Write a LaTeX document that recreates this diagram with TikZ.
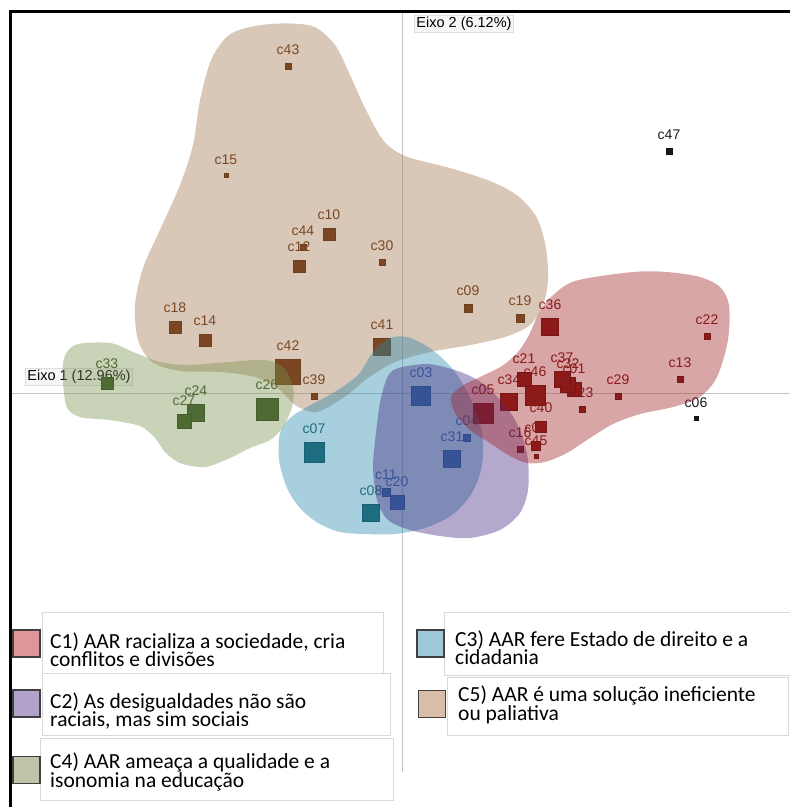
\documentclass[tikz,border=0pt]{standalone}
\usepackage{fontspec}
\setmainfont{Liberation Sans}
\newfontfamily\legfont{Carlito}
\usetikzlibrary{positioning}

\definecolor{cone}{RGB}{125,22,18}
\definecolor{ctwo}{RGB}{55,100,170}
\definecolor{cthree}{RGB}{25,93,103}
\definecolor{cfour}{RGB}{53,82,37}
\definecolor{cfive}{RGB}{97,43,7}
\definecolor{czero}{RGB}{25,25,25}
\definecolor{hone}{RGB}{160,32,37}
\definecolor{htwo}{RGB}{67,37,127}
\definecolor{hthree}{RGB}{37,135,170}
\definecolor{hfour}{RGB}{117,145,75}
\definecolor{hfive}{RGB}{160,115,75}
\definecolor{lone}{RGB}{224,150,152}
\definecolor{ltwo}{RGB}{178,162,202}
\definecolor{lthree}{RGB}{158,200,218}
\definecolor{lfour}{RGB}{190,196,168}
\definecolor{lfive}{RGB}{218,190,170}

\begin{document}
\begin{tikzpicture}[x=1pt,y=-1pt,
  pt/.style={draw=#1!75!black, fill=#1, line width=0.6pt, inner sep=0pt, outer sep=0pt},
  lbl/.style={text=#1, inner sep=0pt, font=\fontsize{14}{16}\selectfont},
  hull/.style={fill=#1, fill opacity=0.4, draw=none},
  axis/.style={draw=gray!45, line width=0.8pt},
  axlbl/.style={fill=gray!7, draw=gray!25, inner xsep=2pt, inner ysep=1.5pt, font=\fontsize{14.5}{16}\selectfont},
  legbox/.style={draw=gray!30, fill=white, line width=0.6pt, anchor=north west},
  swatch/.style={draw=black!75, line width=1.2pt, minimum width=27, minimum height=27, inner sep=0pt},
  legtext/.style={anchor=north west, align=left, inner sep=0pt, font=\legfont\fontsize{21.5}{18.5}\selectfont}]

  \useasboundingbox (0,0) rectangle (790,807);

  % axes
  \coordinate (xl) at (12,393);
  \coordinate (xr) at (790,393);
  \coordinate (yt) at (402,12);
  \coordinate (yb) at (402,772);
  \draw[axis] (xl) -- (xr);
  \draw[axis] (yt) -- (yb);
  \node[axlbl] (eixo2) at (464,23.5) {Eixo 2 (6.12\%)};
  \node[axlbl] (eixo1) at (79,376.5) {Eixo 1 (12.96\%)};

  % C4
  \foreach \n/\x/\y/\s in {c33/107/383/12, c24/196/413/17, c27/184/421/14, c26/267/409/22}{
    \node[pt=cfour, minimum size=\s] (\n) at (\x,\y) {};
    \node[lbl=cfour, above=8.5pt of \n] (\n-l) {\n};
  }
  % C3
  \foreach \n/\x/\y/\s in {c07/314/452/20, c08/371/513/17}{
    \node[pt=cthree, minimum size=\s] (\n) at (\x,\y) {};
    \node[lbl=cthree, above=8.5pt of \n] (\n-l) {\n};
  }
  % C2
  \foreach \n/\x/\y/\s in {c03/421/396/19, c11/386/492/8, c20/397/502/14, c31/452/459/17, c04/467/438/7}{
    \node[pt=ctwo, minimum size=\s] (\n) at (\x,\y) {};
    \node[lbl=ctwo, above=8.5pt of \n] (\n-l) {\n};
  }
  % C5
  \foreach \n/\x/\y/\s in {c43/288/66/6, c15/226/175/4, c10/329/234/12, c44/303/247/6,
      c12/299/266/12, c30/382/262/6, c18/175/327/12, c14/205/340/12, c42/288/372/25,
      c39/314/396/6, c41/382/347/17, c09/468/308/8, c19/520/318/8}{
    \node[pt=cfive, minimum size=\s] (\n) at (\x,\y) {};
    \node[lbl=cfive, above=8.5pt of \n] (\n-l) {\n};
  }
  % C1
  \foreach \n/\x/\y/\s in {c36/550/327/17, c22/707/336/6, c13/680/379/6, c29/618/396/6,
      c23/582/409/6, c01/574/389/14, c32/568/385/15, c37/562/379/16, c46/535/395/20,
      c34/509/402/17, c21/524/379/14, c05/483/413/20, c02/536/446/9, c40/541/427/11,
      c16/520/449/6, c45/536/456/4}{
    \node[pt=cone, minimum size=\s] (\n) at (\x,\y) {};
    \node[lbl=cone, above=8.5pt of \n] (\n-l) {\n};
  }
  % outside
  \foreach \n/\x/\y/\s in {c47/669/151/6, c06/696/418/4}{
    \node[pt=czero, minimum size=\s] (\n) at (\x,\y) {};
    \node[lbl=czero, above=8.5pt of \n] (\n-l) {\n};
  }

  % hulls
  \fill[hull=hfive] plot[smooth cycle] coordinates {(270,24) (312,26) (335,45) (350,75)
    (365,108) (383,140) (405,156) (450,168) (490,181) (518,196) (537,218) (546,248)
    (548,280) (543,305) (530,325) (505,337) (470,345) (430,352) (395,362) (368,378)
    (343,398) (316,412) (295,405) (280,390) (255,377) (220,372) (180,371) (152,362)
    (138,340) (135,305) (143,268) (160,230) (180,185) (193,145) (200,100) (212,58) (232,33)};
  \fill[hull=hfour] plot[smooth cycle] coordinates {(63,363) (75,345) (110,343) (133,352)
    (160,362) (187,365) (217,363) (263,360) (283,367) (293,387) (292,407) (283,427)
    (270,440) (250,448) (230,458) (205,467) (180,463) (165,452) (155,438) (140,426)
    (110,420) (80,417) (66,405)};
  \fill[hull=hthree] plot[smooth cycle] coordinates {(280,433) (290,418) (307,407) (333,393)
    (358,375) (373,352) (390,338) (407,337) (425,345) (442,358) (458,376) (472,402)
    (482,432) (482,465) (472,493) (452,515) (425,528) (395,534) (365,534) (340,532)
    (318,523) (300,508) (287,488) (279,460)};
  \fill[hull=htwo] plot[smooth cycle] coordinates {(392,371) (425,364) (448,368) (468,375)
    (485,385) (500,400) (512,415) (522,435) (528,460) (528,490) (520,513) (500,530)
    (470,538) (440,536) (410,530) (388,520) (377,500) (373,467) (376,433) (381,398)};
  \fill[hull=hone] plot[smooth cycle] coordinates {(550,298) (575,281) (633,272) (667,272)
    (700,277) (720,287) (729,305) (728,340) (717,377) (700,397) (673,407) (640,414)
    (613,424) (590,438) (567,453) (545,462) (527,463) (510,456) (490,443) (470,430)
    (455,413) (451,397) (462,386) (482,376) (502,366) (518,352) (529,335) (538,315)};

  % legend
  \node[legbox, minimum width=341, minimum height=61] (c1box) at (42,612) {};
  \node[legbox, minimum width=348, minimum height=62] (c2box) at (42,673) {};
  \node[legbox, minimum width=353, minimum height=62] (c4box) at (40,738) {};
  \node[legbox, minimum width=360, minimum height=63] (c3box) at (444,612) {};
  \node[legbox, minimum width=341, minimum height=58] (c5box) at (447,677) {};
  \node[swatch, fill=lone] (c1sw) at (26.5,643.5) {};
  \node[swatch, fill=ltwo] (c2sw) at (26.5,703.5) {};
  \node[swatch, fill=lfour] (c4sw) at (26.5,770) {};
  \node[swatch, fill=lthree] (c3sw) at (430.5,643.5) {};
  \node[swatch, fill=lfive] (c5sw) at (432,704) {};
  \node[legtext] (c1txt) at (50,632.5) {C1) AAR racializa a sociedade, cria\\conflitos e divisões};
  \node[legtext] (c2txt) at (50,692.5) {C2) As desigualdades não são\\raciais, mas sim sociais};
  \node[legtext] (c4txt) at (50,752.5) {C4) AAR ameaça a qualidade e a\\isonomia na educação};
  \node[legtext] (c3txt) at (455,630.5) {C3) AAR fere Estado de direito e a\\cidadania};
  \node[legtext] (c5txt) at (458,685.5) {C5) AAR é uma solução ineficiente\\ou paliativa};

  % frame
  \draw[line width=3pt] (790,11.5) -- (10.5,11.5) -- (10.5,807);
\end{tikzpicture}
\end{document}
